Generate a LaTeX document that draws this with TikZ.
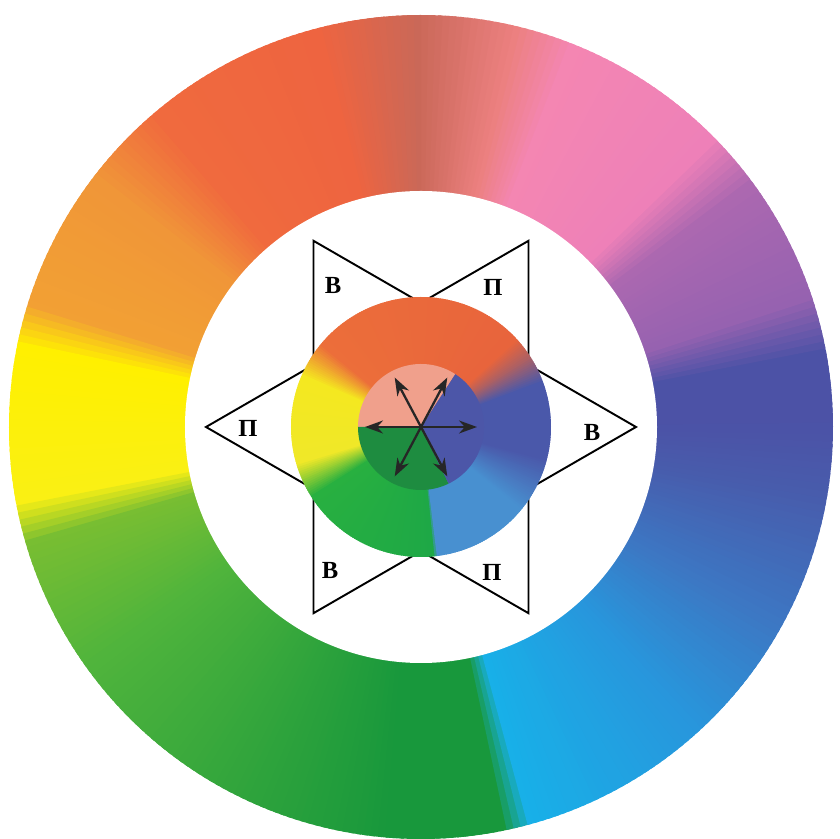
\documentclass[tikz,border=0pt]{standalone}
\usepackage{fontspec}
\newfontfamily\cyrserif{Liberation Serif}
\usetikzlibrary{arrows.meta}

% --- ring colours ---
\definecolor{rDeep}{RGB}{76,82,166}
\definecolor{rViolet}{RGB}{150,98,176}
\definecolor{rMagenta}{RGB}{172,104,176}
\definecolor{rPink}{RGB}{238,128,184}
\definecolor{rPinkB}{RGB}{244,134,178}
\definecolor{rRose}{RGB}{236,128,128}
\definecolor{rBrick}{RGB}{202,104,88}
\definecolor{rRed}{RGB}{238,100,64}
\definecolor{rRedB}{RGB}{240,106,62}
\definecolor{rOrange}{RGB}{240,150,56}
\definecolor{rOrangeB}{RGB}{242,160,52}
\definecolor{rYellow}{RGB}{255,240,0}
\definecolor{rYellowB}{RGB}{250,240,20}
\definecolor{rLime}{RGB}{120,190,50}
\definecolor{rGrass}{RGB}{80,180,60}
\definecolor{rForest}{RGB}{24,152,60}
\definecolor{rCyan}{RGB}{24,176,232}
\definecolor{rSky}{RGB}{40,150,220}
\definecolor{rAzure}{RGB}{60,120,196}
\definecolor{rIndigo}{RGB}{72,92,172}
% --- middle disc colours ---
\definecolor{mBlue}{RGB}{74,88,170}
\definecolor{mBrown}{RGB}{172,96,100}
\definecolor{mRed}{RGB}{232,100,60}
\definecolor{mRedB}{RGB}{236,110,58}
\definecolor{mYellow}{RGB}{244,232,32}
\definecolor{mYellowB}{RGB}{240,232,40}
\definecolor{mGreen}{RGB}{40,176,64}
\definecolor{mGreenB}{RGB}{30,168,70}
\definecolor{mLight}{RGB}{72,144,208}
% --- core colours ---
\definecolor{cSalmon}{RGB}{240,160,140}
\definecolor{cGreen}{RGB}{30,140,64}
\definecolor{cBlue}{RGB}{76,86,168}
\definecolor{inkgray}{RGB}{38,38,38}

\begin{document}
\begin{tikzpicture}[
    star_edge/.style={draw=black, line width=1.1pt, line join=miter},
    vec/.style={-{Stealth[length=3.6mm, width=2.6mm]}, line width=1.3pt, inkgray},
    letter/.style={font=\cyrserif\bfseries\fontsize{14}{16}\selectfont,
                   inner sep=0pt, text=black},
]

\newcommand{\blendwedge}[5]{%
    \pgfmathtruncatemacro{\lastk}{#3-1}
    \foreach \k in {#2,...,\lastk}{
        \pgfmathtruncatemacro{\p}{100*(\k-#2)/(#3-#2)}
        \fill[#5!\p!#4] (0,0) -- (\k:#1)
            arc[start angle=\k, end angle=\k+1.6, radius=#1] -- cycle;
    }
}

    \useasboundingbox (-8.42,-8.24) rectangle (8.38,8.54);
    \coordinate (c) at (0,0);

    % --- outer colour ring ---
    \foreach \a/\b/\ca/\cb in {
        0/10/rDeep/rDeep, 10/18/rDeep/rViolet, 18/36/rViolet/rMagenta,
        36/44/rMagenta/rPink, 44/68/rPink/rPinkB, 68/76/rPinkB/rRose,
        76/90/rRose/rBrick, 90/104/rBrick/rRed, 104/130/rRed/rRedB,
        130/142/rRedB/rOrange, 142/162/rOrange/rOrangeB,
        162/168/rOrangeB/rYellow, 168/190/rYellow/rYellowB,
        190/196/rYellowB/rLime, 196/215/rLime/rGrass,
        215/265/rGrass/rForest, 265/281/rForest/rForest,
        281/285/rForest/rCyan, 285/312/rCyan/rSky,
        312/330/rSky/rAzure, 330/350/rAzure/rIndigo, 350/360/rIndigo/rDeep}
        {\blendwedge{8.24}{\a}{\b}{\ca}{\cb}}

    \fill[white] (c) circle (4.72);

    % --- hexagram ---
    \draw[star_edge] (120:4.3) -- (0:4.3) -- (240:4.3) -- cycle;
    \draw[star_edge] (60:4.3) -- (180:4.3) -- (300:4.3) -- cycle;

    \node[letter] (v1) at (-1.76,2.84)  {В};
    \node[letter] (p1) at (1.44,2.80)   {П};
    \node[letter] (p2) at (-3.46,-0.02) {П};
    \node[letter] (v2) at (3.42,-0.10)  {В};
    \node[letter] (v3) at (-1.82,-2.86) {В};
    \node[letter] (p3) at (1.42,-2.90)  {П};

    % --- middle disc ---
    \foreach \a/\b/\ca/\cb in {
        0/20/mBlue/mBlue, 20/32/mBlue/mBrown, 32/42/mBrown/mRed,
        42/140/mRed/mRedB, 140/156/mRedB/mYellow,
        156/196/mYellow/mYellowB, 196/212/mYellowB/mGreen,
        212/275/mGreen/mGreenB, 275/277/mGreenB/mLight,
        277/320/mLight/mLight, 320/345/mLight/mBlue, 345/360/mBlue/mBlue}
        {\blendwedge{2.6}{\a}{\b}{\ca}{\cb}}

    % --- core ---
    \fill[cSalmon] (c) -- (57:1.26) arc[start angle=57, end angle=180, radius=1.26] -- cycle;
    \fill[cGreen]  (c) -- (180:1.26) arc[start angle=180, end angle=296, radius=1.26] -- cycle;
    \fill[cBlue]   (c) -- (296:1.26) arc[start angle=296, end angle=417, radius=1.26] -- cycle;

    \foreach \ang in {0,62,118,180,242,298}{
        \coordinate (tip\ang) at (\ang:1.12);
        \draw[vec] (c) -- (tip\ang);
    }

\end{tikzpicture}
\end{document}
